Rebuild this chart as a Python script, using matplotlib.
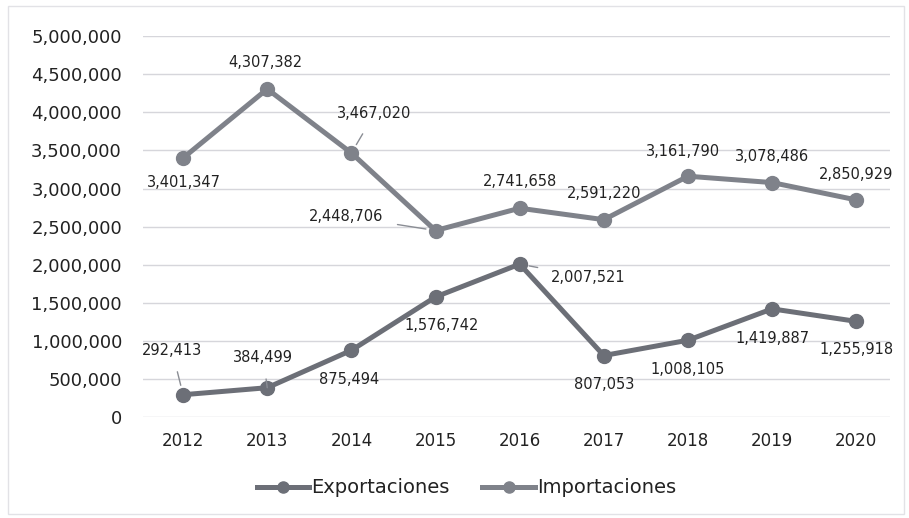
import matplotlib
matplotlib.use("Agg")
import matplotlib.pyplot as plt
from matplotlib.ticker import FuncFormatter

years = ["2012", "2013", "2014", "2015", "2016", "2017", "2018", "2019", "2020"]
exportaciones = [292413, 384499, 875494, 1576742, 2007521, 807053, 1008105, 1419887, 1255918]
importaciones = [3401347, 4307382, 3467020, 2448706, 2741658, 2591220, 3161790, 3078486, 2850929]

# label offsets in pixels (dx, dy), and whether a leader line is drawn
imp_off = [(1, -25), (-2, 27), (23, 39), (-89, 14), (0, 27), (0, 26), (-5, 25), (0, 26), (0, 25)]
imp_lead = [False, False, True, True, False, False, False, False, False]
exp_off = [(-11, 44), (-4, 30), (-2, -29), (6, -29), (69, -13), (0, -29), (0, -29), (0, -30), (0, -28)]
exp_lead = [True, True, False, False, True, False, False, False, False]

C_EXP = '#6c6f77'
C_IMP = '#7f828a'
FONT = 'DejaVu Sans'

fig = plt.figure(figsize=(9.09, 5.18), dpi=100)
ax = fig.add_axes([0.157, 0.195, 0.822, 0.735])

x = list(range(len(years)))
ax.plot(x, exportaciones, color=C_EXP, lw=3.6, marker='o', ms=10,
        label='Exportaciones', zorder=3)
ax.plot(x, importaciones, color=C_IMP, lw=3.6, marker='o', ms=10,
        label='Importaciones', zorder=3)


def labels(vals, offs, leads):
    for i, v in enumerate(vals):
        dx, dy = offs[i]
        props = None
        if leads[i]:
            props = dict(arrowstyle='-', color='#8a8d94', lw=1.0,
                         shrinkA=8, shrinkB=7)
        ax.annotate(f'{v:,}', xy=(i, v), xytext=(dx, dy),
                    textcoords='offset pixels', ha='center', va='center',
                    fontsize=10.5, color='#222222', family=FONT,
                    arrowprops=props, zorder=4)


labels(importaciones, imp_off, imp_lead)
labels(exportaciones, exp_off, exp_lead)

ax.set_ylim(0, 5000000)
ax.set_yticks(range(0, 5000001, 500000))
ax.yaxis.set_major_formatter(FuncFormatter(lambda v, p: f'{int(v):,}'))
ax.set_xlim(-0.48, 8.4)
ax.set_xticks(x)
ax.set_xticklabels(years)
ax.grid(axis='y', color='#d6d6db', lw=1.0)
ax.set_axisbelow(True)
for s in ax.spines.values():
    s.set_visible(False)
ax.tick_params(length=0, labelsize=12, colors='#222222')
ax.tick_params(axis='y', pad=15, labelsize=13)
ax.tick_params(axis='x', pad=11)
for t in ax.get_xticklabels() + ax.get_yticklabels():
    t.set_family(FONT)

leg = ax.legend(loc='center', bbox_to_anchor=(0.433, -0.186), ncol=2,
                frameon=False, fontsize=14, handlelength=2.7,
                handletextpad=0.1, columnspacing=1.7, markerscale=0.8)
for t in leg.get_texts():
    t.set_color('#222222')

# light page frame from the scan
fig.add_artist(plt.Rectangle((0.009, 0.008), 0.985, 0.98, transform=fig.transFigure,
                             fill=False, edgecolor='#e2e2e6', lw=1.0))

fig.savefig('out.png', dpi=100, facecolor='white')
